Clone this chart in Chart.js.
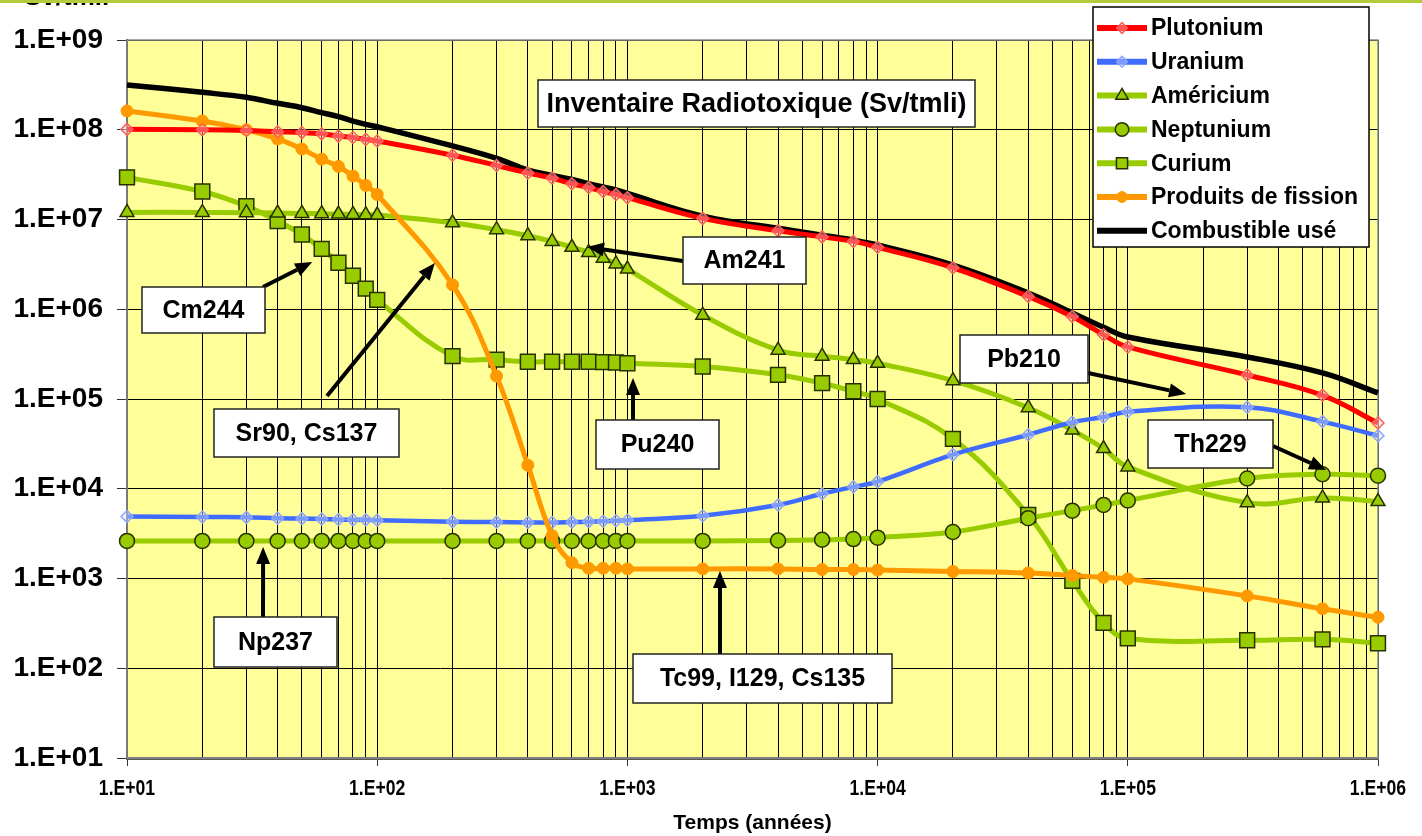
<!DOCTYPE html>
<html lang="fr">
<head>
<meta charset="utf-8">
<title>Inventaire Radiotoxique</title>
<script src="https://cdn.jsdelivr.net/npm/chart.js@4.4.1/dist/chart.umd.min.js"></script>
<style>
  html, body { margin: 0; padding: 0; background: #ffffff; }
  #wrap { position: relative; width: 1422px; height: 836px; }
</style>
</head>
<body>
<div id="wrap"><canvas id="chart" width="1422" height="836"></canvas></div>
<script>
// Time after unloading (years)
const years = [10, 20, 30, 40, 50, 60, 70, 80, 90, 100,
               200, 300, 400, 500, 600, 700, 800, 900, 1000,
               2000, 4000, 6000, 8000, 10000,
               20000, 40000, 60000, 80000, 100000,
               300000, 600000, 1000000];

// Radiotoxic inventory (Sv/tmli) per family
const plutonium = [1.01e8, 1.0e8, 9.8e7, 9.5e7, 9.3e7, 9.0e7, 8.5e7, 8.2e7, 7.8e7, 7.5e7,
                   5.2e7, 4.0e7, 3.3e7, 2.9e7, 2.5e7, 2.27e7, 2.05e7, 1.9e7, 1.75e7,
                   1.03e7, 7.5e6, 6.4e6, 5.7e6, 4.9e6,
                   2.9e6, 1.39e6, 8.3e5, 5.2e5, 3.8e5,
                   1.85e5, 1.1e5, 5.4e4];
const uranium = [4.9e3, 4.85e3, 4.8e3, 4.7e3, 4.65e3, 4.6e3, 4.55e3, 4.5e3, 4.5e3, 4.45e3,
                 4.3e3, 4.25e3, 4.2e3, 4.2e3, 4.25e3, 4.3e3, 4.35e3, 4.4e3, 4.45e3,
                 5.0e3, 6.6e3, 8.8e3, 1.05e4, 1.2e4,
                 2.4e4, 4.0e4, 5.5e4, 6.3e4, 7.2e4,
                 8.1e4, 5.6e4, 3.9e4];
const americium = [1.2e7, 1.2e7, 1.19e7, 1.18e7, 1.17e7, 1.16e7, 1.15e7, 1.14e7, 1.13e7, 1.12e7,
                   9.2e6, 7.7e6, 6.6e6, 5.7e6, 4.9e6, 4.3e6, 3.7e6, 3.2e6, 2.8e6,
                   8.6e5, 3.5e5, 3.0e5, 2.75e5, 2.5e5,
                   1.6e5, 8.0e4, 4.5e4, 2.8e4, 1.75e4,
                   7.0e3, 7.9e3, 7.2e3];
const neptunium = [2.62e3, 2.62e3, 2.62e3, 2.62e3, 2.62e3, 2.62e3, 2.62e3, 2.62e3, 2.62e3, 2.62e3,
                   2.62e3, 2.62e3, 2.62e3, 2.62e3, 2.62e3, 2.62e3, 2.62e3, 2.62e3, 2.62e3,
                   2.62e3, 2.65e3, 2.7e3, 2.75e3, 2.85e3,
                   3.3e3, 4.7e3, 5.7e3, 6.6e3, 7.4e3,
                   1.3e4, 1.45e4, 1.4e4];
const curium = [2.95e7, 2.05e7, 1.41e7, 9.6e6, 6.8e6, 4.7e6, 3.3e6, 2.36e6, 1.7e6, 1.27e6,
                3.0e5, 2.75e5, 2.6e5, 2.6e5, 2.6e5, 2.6e5, 2.58e5, 2.55e5, 2.5e5,
                2.3e5, 1.86e5, 1.5e5, 1.22e5, 1.0e5,
                3.6e4, 5.1e3, 9.4e2, 3.2e2, 2.15e2,
                2.05e2, 2.1e2, 1.9e2];
const fissionProducts = [1.62e8, 1.25e8, 1.0e8, 7.9e7, 6.1e7, 4.7e7, 3.9e7, 3.05e7, 2.4e7, 1.9e7,
                         1.87e6, 1.8e5, 1.83e4, 3.0e3, 1.5e3, 1.3e3, 1.3e3, 1.3e3, 1.28e3,
                         1.28e3, 1.28e3, 1.26e3, 1.26e3, 1.24e3,
                         1.2e3, 1.15e3, 1.08e3, 1.03e3, 9.9e2,
                         6.4e2, 4.6e2, 3.7e2];
const spentFuel = [3.16e8, 2.61e8, 2.3e8, 1.97e8, 1.76e8, 1.55e8, 1.4e8, 1.25e8, 1.15e8, 1.08e8,
                   6.6e7, 4.8e7, 3.55e7, 3.1e7, 2.8e7, 2.5e7, 2.3e7, 2.13e7, 1.95e7,
                   1.09e7, 7.98e6, 6.7e6, 5.9e6, 5.2e6,
                   3.11e6, 1.52e6, 9.1e5, 6.3e5, 4.9e5,
                   2.94e5, 1.95e5, 1.17e5];

// Axis ticks
const xDecades = [1e1, 1e2, 1e3, 1e4, 1e5, 1e6];
const xTickLabels = ['1.E+01', '1.E+02', '1.E+03', '1.E+04', '1.E+05', '1.E+06'];
const yDecades = [1e1, 1e2, 1e3, 1e4, 1e5, 1e6, 1e7, 1e8, 1e9];
const yTickLabels = ['1.E+01', '1.E+02', '1.E+03', '1.E+04', '1.E+05', '1.E+06', '1.E+07', '1.E+08', '1.E+09'];

// Labels of the nuclides pointed at on the graph and the data point each arrow reaches
const nuclideNames = ['Cm244', 'Sr90, Cs137', 'Np237', 'Am241', 'Pu240', 'Tc99, I129, Cs135', 'Pb210', 'Th229'];
const nuclideTargets = [[55, 3.36e6], [170, 3.27e6], [35, 2.24e3], [689, 4.94e6],
                        [1053, 1.71e5], [2344, 1.21e3], [1.71e5, 1.14e5], [6.2e5, 1.62e4]];

const FONT = "'Liberation Sans', Arial, Helvetica, sans-serif";
const GREEN = '#99CC00';
const GREEN_EDGE = '#263000';

// every minor position gets a vertical grid line
const xGridValues = [];
for (let d = 0; d < xDecades.length - 1; d++) {
  for (let m = 1; m < 10; m++) xGridValues.push(xDecades[d] * m);
}
xGridValues.push(xDecades[xDecades.length - 1]);

const pts = arr => years.map((t, i) => ({ x: t, y: arr[i] }));

const datasets = [
  { label: 'Plutonium', data: pts(plutonium), borderColor: '#FF0000', borderWidth: 5,
    pointStyle: 'rectRot', pointRadius: 6, pointBorderWidth: 1.5,
    pointBorderColor: '#FF5C5C', pointBackgroundColor: 'rgba(255,210,210,0.4)', order: 1 },
  { label: 'Uranium', data: pts(uranium), borderColor: '#3F6BFF', borderWidth: 4.5,
    pointStyle: 'rectRot', pointRadius: 6, pointBorderWidth: 1.5,
    pointBorderColor: '#8CA4FF', pointBackgroundColor: 'rgba(210,222,255,0.4)', order: 3 },
  { label: 'Américium', data: pts(americium), borderColor: GREEN, borderWidth: 5,
    pointStyle: 'triangle', pointRadius: 8, pointBorderWidth: 1.5,
    pointBorderColor: GREEN_EDGE, pointBackgroundColor: GREEN, order: 4 },
  { label: 'Neptunium', data: pts(neptunium), borderColor: GREEN, borderWidth: 5,
    pointStyle: 'circle', pointRadius: 7.5, pointBorderWidth: 1.5,
    pointBorderColor: GREEN_EDGE, pointBackgroundColor: GREEN, order: 5 },
  { label: 'Curium', data: pts(curium), borderColor: GREEN, borderWidth: 5,
    pointStyle: 'rect', pointRadius: 10.5, pointBorderWidth: 1.5,
    pointBorderColor: GREEN_EDGE, pointBackgroundColor: GREEN, order: 6 },
  { label: 'Produits de fission', data: pts(fissionProducts), borderColor: '#FF9900', borderWidth: 5,
    pointStyle: 'circle', pointRadius: 6, pointBorderWidth: 1,
    pointBorderColor: '#FF9900', pointBackgroundColor: '#FF9900', order: 2 },
  { label: 'Combustible usé', data: pts(spentFuel), borderColor: '#000000', borderWidth: 5.5,
    pointRadius: 0, order: 7 }
];
datasets.forEach(d => { d.tension = 0.4; d.clip = false; d.fill = false; d.pointHoverRadius = d.pointRadius; });

// yellow plot background + thin frame around it
const plotFrame = {
  id: 'plotFrame',
  beforeDraw(chart) {
    const { ctx, chartArea: a } = chart;
    ctx.save();
    ctx.fillStyle = '#FFFF99';
    ctx.fillRect(a.left, a.top, a.right - a.left, a.bottom - a.top);
    ctx.restore();
  },
  beforeDatasetsDraw(chart) {
    const { ctx, chartArea: a } = chart;
    ctx.save();
    ctx.strokeStyle = '#8C8C8C';
    ctx.lineWidth = 1.5;
    ctx.strokeRect(a.left, a.top, a.right - a.left, a.bottom - a.top);
    ctx.restore();
  }
};

// condensed bold labels under the time axis
const timeLabels = {
  id: 'timeLabels',
  afterDraw(chart) {
    const { ctx, chartArea: a, scales: { x } } = chart;
    ctx.save();
    ctx.fillStyle = '#000';
    ctx.font = `bold 22px ${FONT}`;
    ctx.textAlign = 'center';
    ctx.textBaseline = 'middle';
    xDecades.forEach((v, i) => {
      ctx.save();
      ctx.translate(x.getPixelForValue(v), a.bottom + 31);
      ctx.scale(0.8, 1);
      ctx.fillText(xTickLabels[i], 0, 0);
      ctx.restore();
    });
    ctx.restore();
  }
};

function drawArrow(ctx, x1, y1, x2, y2) {
  const ang = Math.atan2(y2 - y1, x2 - x1);
  const head = 17, half = 7;
  const bx = x2 - head * Math.cos(ang), by = y2 - head * Math.sin(ang);
  ctx.beginPath();
  ctx.moveTo(x1, y1);
  ctx.lineTo(bx, by);
  ctx.lineWidth = 4;
  ctx.strokeStyle = '#000';
  ctx.stroke();
  ctx.beginPath();
  ctx.moveTo(x2, y2);
  ctx.lineTo(bx + half * Math.sin(ang), by - half * Math.cos(ang));
  ctx.lineTo(bx - half * Math.sin(ang), by + half * Math.cos(ang));
  ctx.closePath();
  ctx.fillStyle = '#000';
  ctx.fill();
}

function drawTextBox(ctx, text, left, top, w, h, size) {
  ctx.fillStyle = '#FFFFFF';
  ctx.fillRect(left, top, w, h);
  ctx.strokeStyle = '#222';
  ctx.lineWidth = 1.5;
  ctx.strokeRect(left, top, w, h);
  ctx.fillStyle = '#000';
  ctx.font = `bold ${size}px ${FONT}`;
  ctx.textAlign = 'center';
  ctx.textBaseline = 'middle';
  ctx.fillText(text, left + w / 2, top + h / 2 + 1);
}

// callout boxes (canvas px) and the tail of their arrows
const calloutBoxes = [
  { box: [142, 287, 123, 46], tail: [263, 287] },
  { box: [214, 409, 185, 48], tail: [327, 396] },
  { box: [214, 617, 123, 50], tail: [263, 617] },
  { box: [683, 237, 123, 47], tail: [683, 261] },
  { box: [596, 420, 123, 49], tail: [633, 420] },
  { box: [633, 654, 259, 49], tail: [720, 654] },
  { box: [960, 335, 128, 48], tail: [1088, 373] },
  { box: [1148, 420, 125, 48], tail: [1273, 446] }
];

const annotations = {
  id: 'annotations',
  afterDatasetsDraw(chart) {
    const { ctx, scales: { x, y } } = chart;
    ctx.save();
    drawTextBox(ctx, 'Inventaire Radiotoxique (Sv/tmli)', 538, 80, 437, 47, 27);
    nuclideNames.forEach((name, i) => {
      const c = calloutBoxes[i];
      const [tx, ty] = nuclideTargets[i];
      drawArrow(ctx, c.tail[0], c.tail[1], x.getPixelForValue(tx), y.getPixelForValue(ty));
      drawTextBox(ctx, name, c.box[0], c.box[1], c.box[2], c.box[3], 25);
    });
    ctx.restore();
  }
};

const legendBox = {
  id: 'legendBox',
  afterDraw(chart) {
    const ctx = chart.ctx;
    const left = 1093, top = 7, w = 276, h = 240;
    ctx.save();
    ctx.fillStyle = '#FFFFFF';
    ctx.fillRect(left, top, w, h);
    ctx.strokeStyle = '#000';
    ctx.lineWidth = 1.5;
    ctx.strokeRect(left, top, w, h);
    const drawPoint = Chart.helpers && Chart.helpers.drawPoint;
    chart.data.datasets.forEach((ds, i) => {
      const cy = 28 + i * 33.8;
      ctx.beginPath();
      ctx.moveTo(1097, cy);
      ctx.lineTo(1147, cy);
      ctx.strokeStyle = ds.borderColor;
      ctx.lineWidth = 6;
      ctx.lineCap = 'butt';
      ctx.stroke();
      if (ds.pointRadius > 0 && drawPoint) {
        ctx.fillStyle = ds.pointBackgroundColor;
        ctx.strokeStyle = ds.pointBorderColor;
        ctx.lineWidth = ds.pointBorderWidth;
        const r = ds.pointStyle === 'rect' ? ds.pointRadius * 0.75 : ds.pointRadius * 0.9;
        drawPoint(ctx, { pointStyle: ds.pointStyle, radius: r, borderWidth: ds.pointBorderWidth, rotation: 0 }, 1122, cy);
      }
      ctx.fillStyle = '#000';
      ctx.font = `bold 23px ${FONT}`;
      ctx.textAlign = 'left';
      ctx.textBaseline = 'middle';
      ctx.fillText(ds.label, 1151, cy + 1);
    });
    // page header rule and the unit of the (cropped) axis caption
    ctx.fillStyle = '#000';
    ctx.font = `bold 26px ${FONT}`;
    ctx.textAlign = 'left';
    ctx.textBaseline = 'alphabetic';
    ctx.fillText('Sv/tmli', 24, 5);
    ctx.fillStyle = '#B2CC3A';
    ctx.fillRect(0, 0, chart.width, 3);
    ctx.restore();
  }
};

new Chart(document.getElementById('chart'), {
  type: 'line',
  data: { datasets },
  options: {
    responsive: false,
    animation: false,
    devicePixelRatio: 1,
    layout: { padding: { top: 40, right: 44, left: 0, bottom: 0 } },
    plugins: { legend: { display: false }, tooltip: { enabled: false } },
    scales: {
      x: {
        type: 'logarithmic', min: 10, max: 1e6,
        afterBuildTicks: s => { s.ticks = xGridValues.map(v => ({ value: v, major: xDecades.includes(v) })); },
        afterFit: s => { s.height = 78; },
        ticks: { display: false, autoSkip: false, maxRotation: 0, minRotation: 0 },
        grid: {
          color: '#000', lineWidth: 1, tickLength: 8,
          tickColor: c => (c.tick && xDecades.includes(c.tick.value)) ? '#333' : 'rgba(0,0,0,0)'
        },
        border: { color: '#5A5A5A', width: 3 },
        title: {
          display: true, text: 'Temps (années)', color: '#000',
          font: { family: FONT, size: 21, weight: 'bold' },
          padding: { top: 0, bottom: 0 }
        }
      },
      y: {
        type: 'logarithmic', min: 10, max: 1e9,
        afterBuildTicks: s => { s.ticks = yDecades.map(v => ({ value: v, major: true })); },
        afterFit: s => { s.width = 127; },
        ticks: {
          autoSkip: false, padding: 14, color: '#000',
          font: { family: FONT, size: 28, weight: 'bold' },
          callback: v => { const i = yDecades.indexOf(v); return i >= 0 ? yTickLabels[i] : ''; }
        },
        grid: { color: '#000', lineWidth: 1, tickLength: 10, tickColor: '#333' },
        border: { color: '#444', width: 2 }
      }
    }
  },
  plugins: [plotFrame, timeLabels, annotations, legendBox]
});
</script>
</body>
</html>
